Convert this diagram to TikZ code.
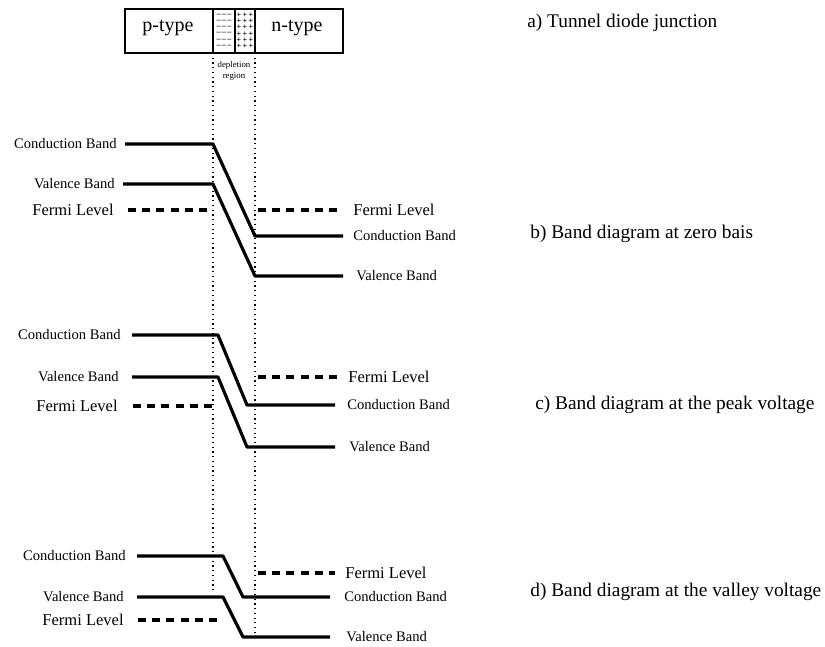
\documentclass[tikz,border=0pt]{standalone}
\usepackage{fontspec}
\setmainfont{Liberation Serif}
\usetikzlibrary{positioning}
\tikzset{
  band/.style={line width=1.8pt,draw=black,line join=round},
  fermi/.style={line width=2pt,draw=black,dash pattern=on 4.5pt off 3.6pt},
  junction/.style={dotted,line width=0.7pt,draw=black},
  blabel/.style={font=\fontsize{8.3}{9}\selectfont,inner sep=0pt},
  flabel/.style={font=\fontsize{9.4}{10}\selectfont,inner sep=0pt},
  title/.style={font=\fontsize{11}{12}\selectfont,anchor=west,inner sep=0pt},
  charge/.style={font=\fontsize{4.6}{5}\selectfont\bfseries,inner sep=0pt}
}

\begin{document}
\begin{tikzpicture}[x=0.02cm,y=-0.02cm,node distance=0.16cm]
      \useasboundingbox (0,0) rectangle (825,646);
      % a) junction
      \draw[line width=1.7pt] (125,9) rectangle (343,53);
      \draw[line width=1.7pt] (213,9) -- (213,53) (235,9) -- (235,53) (255,9) -- (255,53);
      \node[font=\fontsize{11.4}{12}\selectfont] (ptype) at (168,28) {p-type};
      \node[font=\fontsize{11.4}{12}\selectfont] (ntype) at (297,28) {n-type};
      \foreach \r in {0,...,5} {
        \node[charge] (neg\r) at (224,15+6.3*\r) {–\,–\,–};
        \node[charge] (pos\r) at (245,15+6.3*\r) {+\,+\,+};
      }
      \node[font=\fontsize{5}{6}\selectfont,align=center,inner sep=0pt] (depl) at (234,71) {depletion\\region};
      \coordinate (jL) at (213,53);
      \coordinate (jR) at (255,53);
      \coordinate (jLend) at (213,593);
      \coordinate (jRend) at (255,632);
      \draw[junction] (jL) -- (jLend);
      \draw[junction] (jR) -- (jRend);
      \node[title] (ta) at (527,23) {a) Tunnel diode junction};

      % b) zero bias
      \coordinate (bc1) at (125,144);
      \coordinate (bc2) at (213,144);
      \coordinate (bc3) at (255,236);
      \coordinate (bc4) at (343,236);
      \coordinate (bv1) at (123,184);
      \coordinate (bv2) at (213,184);
      \coordinate (bv3) at (255,276);
      \coordinate (bv4) at (343,276);
      \coordinate (bf1) at (128,210);
      \coordinate (bf2) at (212,210);
      \coordinate (bf3) at (258,210);
      \coordinate (bf4) at (343,210);
      \draw[band] (bc1) -- (bc2) -- (bc3) -- (bc4);
      \draw[band] (bv1) -- (bv2) -- (bv3) -- (bv4);
      \draw[fermi] (bf1) -- (bf2);
      \draw[fermi] (bf3) -- (bf4);
      \node[blabel,left=of bc1] (bcl) {Conduction Band};
      \node[blabel,left=of bv1] (bvl) {Valence Band};
      \node[flabel,left=0.28cm of bf1] (bfl) {Fermi Level};
      \node[flabel,right=0.2cm of bf4] (bfr) {Fermi Level};
      \node[blabel,right=0.2cm of bc4] (bcr) {Conduction Band};
      \node[blabel,right=0.26cm of bv4] (bvr) {Valence Band};
      \node[title] (tb) at (530,234) {b) Band diagram at zero bais};

      % c) peak voltage
      \coordinate (cc1) at (132,335);
      \coordinate (cc2) at (218,335);
      \coordinate (cc3) at (247,405);
      \coordinate (cc4) at (335,405);
      \coordinate (cv1) at (132,377);
      \coordinate (cv2) at (218,377);
      \coordinate (cv3) at (247,447);
      \coordinate (cv4) at (335,447);
      \coordinate (cf1) at (133,406);
      \coordinate (cf2) at (218,406);
      \coordinate (cf3) at (258,377);
      \coordinate (cf4) at (340,377);
      \draw[band] (cc1) -- (cc2) -- (cc3) -- (cc4);
      \draw[band] (cv1) -- (cv2) -- (cv3) -- (cv4);
      \draw[fermi] (cf1) -- (cf2);
      \draw[fermi] (cf3) -- (cf4);
      \node[blabel,left=0.22cm of cc1] (ccl) {Conduction Band};
      \node[blabel,left=0.26cm of cv1] (cvl) {Valence Band};
      \node[flabel,left=0.3cm of cf1] (cfl) {Fermi Level};
      \node[flabel,right=0.16cm of cf4] (cfr) {Fermi Level};
      \node[blabel,right=0.24cm of cc4] (ccr) {Conduction Band};
      \node[blabel,right=0.28cm of cv4] (cvr) {Valence Band};
      \node[title] (tc) at (535,405) {c) Band diagram at the peak voltage};

      % d) valley voltage
      \coordinate (dc1) at (137,556);
      \coordinate (dc2) at (223,556);
      \coordinate (dc3) at (243,597);
      \coordinate (dc4) at (330,597);
      \coordinate (dv1) at (137,597);
      \coordinate (dv2) at (223,597);
      \coordinate (dv3) at (243,637);
      \coordinate (dv4) at (330,637);
      \coordinate (df1) at (138,620);
      \coordinate (df2) at (222,620);
      \coordinate (df3) at (258,573);
      \coordinate (df4) at (335,573);
      \draw[band] (dc1) -- (dc2) -- (dc3) -- (dc4);
      \draw[band] (dv1) -- (dv2) -- (dv3) -- (dv4);
      \draw[fermi] (df1) -- (df2);
      \draw[fermi] (df3) -- (df4);
      \node[blabel,left=0.22cm of dc1] (dcl) {Conduction Band};
      \node[blabel,left=0.26cm of dv1] (dvl) {Valence Band};
      \node[flabel,left=0.28cm of df1] (dfl) {Fermi Level};
      \node[flabel,right=0.2cm of df4] (dfr) {Fermi Level};
      \node[blabel,right=0.28cm of dc4] (dcr) {Conduction Band};
      \node[blabel,right=0.32cm of dv4] (dvr) {Valence Band};
      \node[title] (td) at (530,592) {d) Band diagram at the valley voltage};
    \end{tikzpicture}
\end{document}
